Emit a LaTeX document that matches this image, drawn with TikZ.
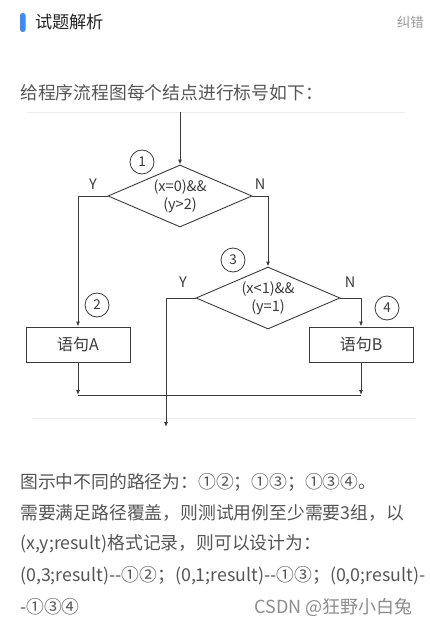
\documentclass[tikz,border=0pt]{standalone}
\usepackage{fontspec}
\setmainfont{Noto Sans CJK SC}
\usetikzlibrary{shapes.geometric,arrows.meta}
\definecolor{ln}{HTML}{3A3A3A}
\definecolor{body}{HTML}{555555}
\definecolor{title}{HTML}{222222}
\definecolor{blueb}{HTML}{3D8AF7}
\definecolor{light}{HTML}{9A9A9A}
\begin{document}
\begin{tikzpicture}[x=1pt,y=-1pt,
  line/.style={draw=ln,line width=0.9pt},
  arr/.style={line,-{Latex[length=5pt,width=4pt]}},
  dec/.style={diamond,draw=ln,line width=0.9pt,aspect=2.3,inner sep=0pt,minimum width=144pt,minimum height=62pt,align=center,font=\fontsize{14.5}{18}\selectfont,text=ln},
  stmt/.style={rectangle,draw=ln,line width=0.9pt,minimum width=104pt,minimum height=35pt,inner sep=0pt,font=\fontsize{16}{18}\selectfont,text=ln},
  num/.style={circle,draw=ln,line width=0.8pt,minimum size=24pt,inner sep=0pt,font=\fontsize{13.5}{14}\selectfont,text=ln},
  yn/.style={inner sep=0pt,font=\fontsize{14.5}{14}\selectfont,text=ln},
  txt/.style={anchor=west,inner sep=0pt,font=\fontsize{17.8}{20}\selectfont,text=body}
]
\useasboundingbox (0,0) rectangle (430,628);
% header
\fill[blueb,rounded corners=2.5pt] (20,13) rectangle (25.5,32);
\node[anchor=west,inner sep=0pt,font=\fontsize{17.2}{18}\selectfont,text=title] (hd) at (35,22) {试题解析};
\node[anchor=east,inner sep=0pt,font=\fontsize{13.5}{14}\selectfont,text=light] (jc) at (424,22) {纠错};
\node[txt] (intro) at (20,93) {给程序流程图每个结点进行标号如下：};
% faint frame of the embedded picture
\draw[black!7,line width=0.8pt] (27,112) -- (405,112);
\draw[black!7,line width=0.8pt] (33,418) -- (415,418);
% flowchart
\coordinate (start) at (180,112);
\node[dec] (d1) at (180,196) {(x=0)\&\&\\(y>2)};
\node[dec] (d3) at (268,298) {(x<1)\&\&\\(y=1)};
\node[stmt] (a) at (78,344.5) {语句A};
\node[stmt] (b) at (361,344.5) {语句B};
\node[num] (c1) at (142,162) {1};
\node[num] (c2) at (97,305) {2};
\node[num] (c3) at (233,260) {3};
\node[num] (c4) at (387,308) {4};
\node[yn] (y1) at (93,184) {Y};
\node[yn] (n1) at (260,184) {N};
\node[yn] (y3) at (183,282) {Y};
\node[yn] (n3) at (350,282) {N};
\coordinate (ja) at (78,395);
\coordinate (jb) at (361,395);
\coordinate (yend) at (166,427);
\draw[arr] (start) -- (d1.north);
\draw[arr] (d1.west) -| (a.north);
\draw[arr] (d1.east) -| (d3.north);
\draw[arr] (d3.east) -| (b.north);
\draw[arr] (d3.west) -| (yend);
\draw[arr] (a.south) -- (ja);
\draw[arr] (b.south) -- (jb);
\draw[line] (ja) -- (jb);
% explanation text
\node[txt] (l1) at (20,482) {图示中不同的路径为：①②；①③；①③④。};
\node[txt] (l2) at (20,513) {需要满足路径覆盖，则测试用例至少需要3组，以};
\node[txt] (l3) at (20,544) {(x,y;result)格式记录，则可以设计为：};
\node[txt] (l4) at (20,576) {(0,3;result)-{}-①②；(0,1;result)-{}-①③；(0,0;result)-};
\node[txt] (l5) at (20,607) {-①③④};
\node[anchor=east,inner sep=0pt,font=\fontsize{18}{18}\selectfont,text=black!45] (wm) at (413,607) {CSDN @狂野小白兔};
\end{tikzpicture}
\end{document}
